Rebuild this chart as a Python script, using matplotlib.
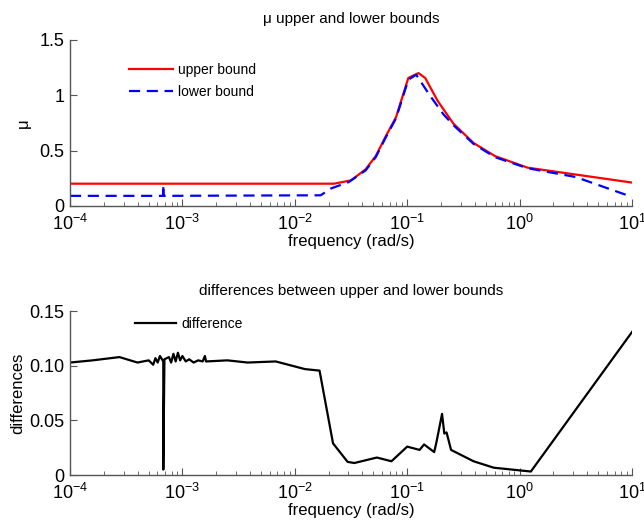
import matplotlib
matplotlib.use('Agg')
import matplotlib.pyplot as plt
import numpy as np

plt.rcParams['font.family'] = ['Liberation Sans', 'DejaVu Sans']
plt.rcParams['mathtext.fontset'] = 'custom'
plt.rcParams['mathtext.rm'] = 'Liberation Sans'
plt.rcParams['mathtext.it'] = 'Liberation Sans:italic'

# upper bound (log10 frequency, mu)
up_logf = [-4.0, -1.65, -1.50, -1.37, -1.28, -1.19, -1.10, -0.99, -0.90, -0.84,
           -0.73, -0.59, -0.41, -0.22, 0.07, 1.0]
up_val = [0.20, 0.20, 0.23, 0.33, 0.45, 0.63, 0.80, 1.156, 1.20, 1.156,
          0.95, 0.744, 0.568, 0.45, 0.345, 0.21]

# lower bound
lo_logf = [-4.0, -3.17, -3.17, -3.17, -1.77, -1.68, -1.52, -1.37, -1.28, -1.19,
           -1.10, -0.99, -0.92, -0.80, -0.68, -0.59, -0.41, -0.22, 0.07, 0.5, 1.0]
lo_val = [0.09, 0.09, 0.19, 0.09, 0.095, 0.156, 0.215, 0.32, 0.44, 0.62,
          0.79, 1.14, 1.185, 1.0, 0.83, 0.73, 0.56, 0.44, 0.34, 0.26, 0.08]

# difference
df_logf = [-4.0, -3.80, -3.56, -3.40, -3.30, -3.26, -3.24, -3.22, -3.20, -3.17,
           -3.17, -3.16, -3.12, -3.10, -3.08, -3.06, -3.04, -3.02, -3.00, -2.97,
           -2.94, -2.90, -2.86, -2.82, -2.80, -2.79, -2.60, -2.42, -2.17, -1.91,
           -1.78, -1.66, -1.53, -1.47, -1.27, -1.14, -1.00, -0.89, -0.85, -0.76,
           -0.74, -0.69, -0.67, -0.65, -0.61, -0.41, -0.23, 0.10, 1.0]
df_val = [0.103, 0.105, 0.108, 0.103, 0.105, 0.101, 0.107, 0.103, 0.109, 0.104,
          0.005, 0.106, 0.108, 0.103, 0.111, 0.104, 0.112, 0.105, 0.109, 0.104,
          0.106, 0.103, 0.105, 0.104, 0.109, 0.104, 0.105, 0.103, 0.104, 0.097,
          0.0956, 0.029, 0.012, 0.011, 0.016, 0.0126, 0.026, 0.023, 0.028, 0.021,
          0.030, 0.056, 0.038, 0.039, 0.023, 0.0126, 0.0067, 0.0032, 0.131]

AX_GRAY = '#555555'


def style_axes(ax):
    ax.set_xscale('log')
    ax.set_xlim(1e-4, 10)
    ax.spines['top'].set_visible(False)
    ax.spines['right'].set_visible(False)
    for s in ('left', 'bottom'):
        ax.spines[s].set_color(AX_GRAY)
        ax.spines[s].set_linewidth(1.0)
    ax.tick_params(which='both', direction='in', labelsize=13, color=AX_GRAY)
    ax.tick_params(which='major', length=5)
    ax.tick_params(which='minor', length=3)
    ax.tick_params(axis='x', pad=6)
    ax.tick_params(axis='y', pad=4)


fig = plt.figure(figsize=(6.44, 5.25), dpi=100)
ax1 = fig.add_axes([0.1087, 0.608, 0.8727, 0.316])
ax2 = fig.add_axes([0.1087, 0.0952, 0.8727, 0.312])

ax1.plot(10 ** np.array(up_logf), up_val, color='#ff0000', lw=1.6, label='upper bound')
ax1.plot(10 ** np.array(lo_logf), lo_val, color='#0000ff', lw=1.6, ls='--',
         dashes=(5, 3), label='lower bound')
style_axes(ax1)
ax1.set_ylim(0, 1.5)
ax1.set_yticks([0, 0.5, 1, 1.5])
ax1.set_yticklabels(['0', '0.5', '1', '1.5'])
ax1.set_title('μ upper and lower bounds', fontsize=11, pad=12)
ax1.set_ylabel('μ', fontsize=12, labelpad=6)
ax1.set_xlabel('frequency (rad/s)', fontsize=12, labelpad=0)
ax1.legend(loc='upper left', bbox_to_anchor=(0.105, 0.86), frameon=False,
           borderpad=0, borderaxespad=0,
           fontsize=10, handlelength=3.2, handletextpad=0.35, labelspacing=0.55)

ax2.plot(10 ** np.array(df_logf), df_val, color='black', lw=1.6, label='difference')
style_axes(ax2)
ax2.set_ylim(0, 0.15)
ax2.set_yticks([0, 0.05, 0.10, 0.15])
ax2.set_yticklabels(['0', '0.05', '0.10', '0.15'])
ax2.set_title('differences between upper and lower bounds', fontsize=11, pad=12)
ax2.set_ylabel('differences', fontsize=12, labelpad=3)
ax2.set_xlabel('frequency (rad/s)', fontsize=12, labelpad=0)
ax2.legend(loc='upper left', bbox_to_anchor=(0.115, 0.965), frameon=False,
           borderpad=0, borderaxespad=0,
           fontsize=10, handlelength=3.0, handletextpad=0.35)

fig.savefig('out.png', dpi=100)
